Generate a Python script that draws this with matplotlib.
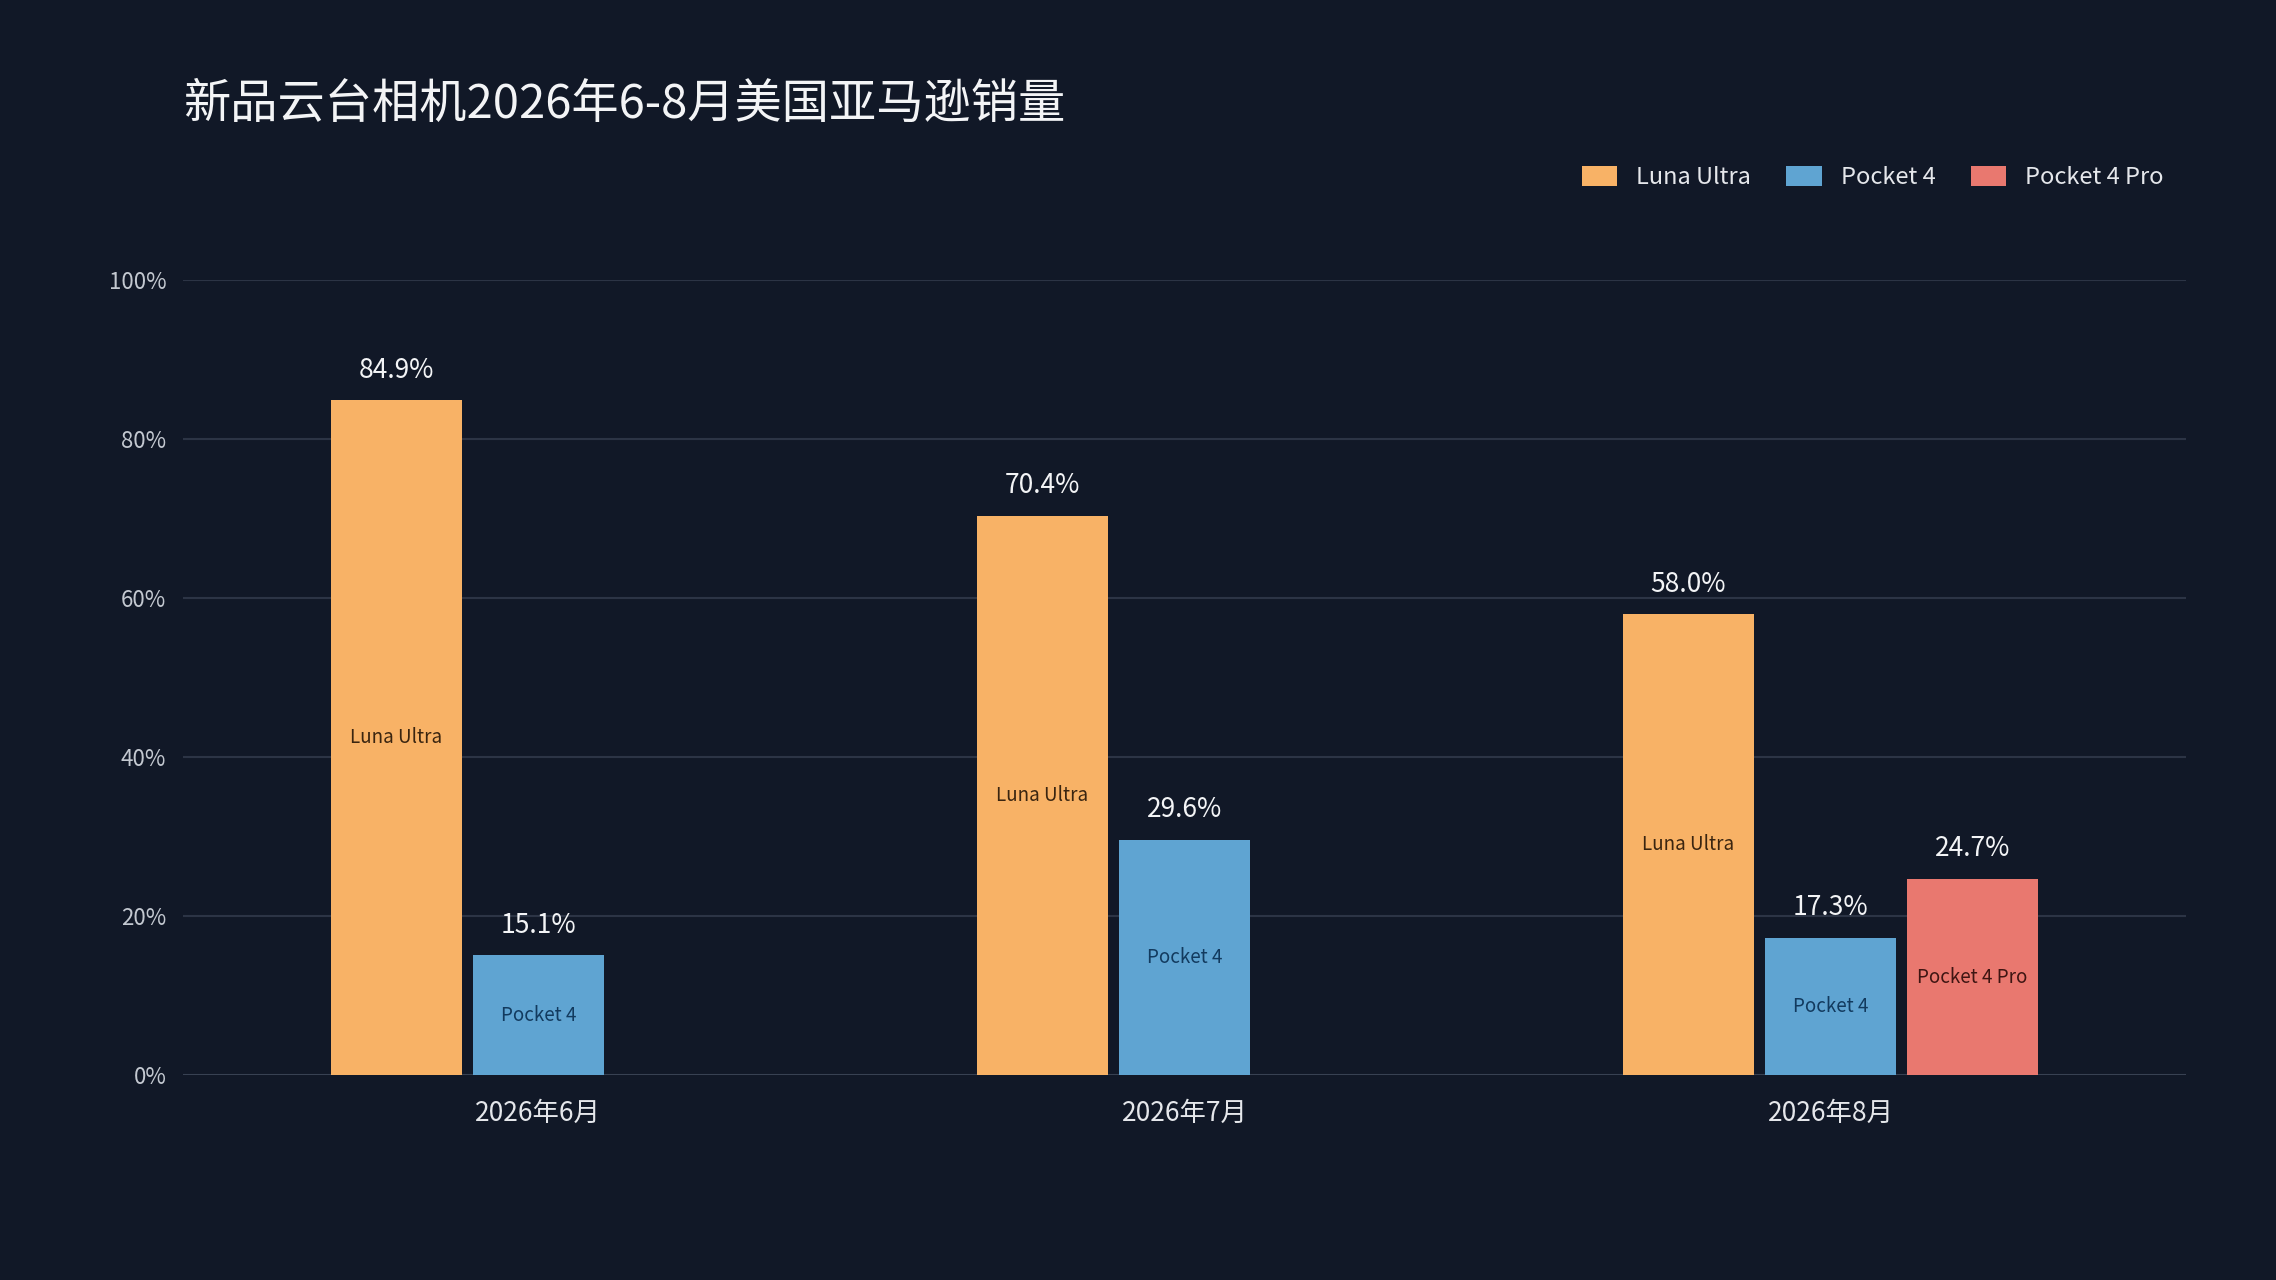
import matplotlib
matplotlib.use("Agg")
import matplotlib.pyplot as plt
import numpy as np
from matplotlib.patches import Patch

plt.rcParams['font.family'] = ['Noto Sans CJK SC', 'DejaVu Sans']

months = ["2026年6月", "2026年7月", "2026年8月"]
series_names = ["Luna Ultra", "Pocket 4", "Pocket 4 Pro"]
luna_ultra = [84.9, 70.4, 58.0]
pocket_4 = [15.1, 29.6, 17.3]
pocket_4_pro = [None, None, 24.7]
y_ticks = [0, 20, 40, 60, 80, 100]

bg = "#111827"
bar_colors = ["#F8B266", "#5FA4D2", "#E9786F"]
inner_colors = ["#3A2510", "#123A5E", "#3E1512"]

fig = plt.figure(figsize=(22.76, 12.8), dpi=100, facecolor=bg)
ax = fig.add_axes([0.0804, 0.160, 0.880, 0.621], facecolor=bg)

x = np.arange(len(months))
width = 0.203
step = 0.22
all_series = [luna_ultra, pocket_4, pocket_4_pro]

for i, vals in enumerate(all_series):
    offset = (i - 1) * step
    for j, v in enumerate(vals):
        if v is None:
            continue
        xpos = x[j] + offset
        ax.bar(xpos, v, width, color=bar_colors[i], zorder=3)
        ax.annotate(f"{v:.1f}%", (xpos, v), xytext=(0, 12), textcoords="offset points",
                    ha="center", va="bottom", color="#F3F4F6", fontsize=19)
        ax.text(xpos, v / 2, series_names[i], ha="center", va="center",
                color=inner_colors[i], fontsize=13.5, zorder=4)

ax.set_xlim(-0.55, 2.55)
ax.set_ylim(0, 100)
ax.set_yticks(y_ticks)
ax.set_yticklabels([f"{t}%" for t in y_ticks])
ax.set_xticks(x)
ax.set_xticklabels(months)

ax.grid(axis="y", color="#2C3445", linewidth=1.5, zorder=0)
ax.axhline(0, color="#3A4354", linewidth=2, zorder=2)
for s in ax.spines.values():
    s.set_visible(False)
ax.tick_params(axis="y", length=0, pad=12, labelsize=16, labelcolor="#C3C8D0")
ax.tick_params(axis="x", length=0, pad=18, labelsize=19, labelcolor="#E5E7EB")

fig.text(0.0804, 0.918, "新品云台相机2026年6-8月美国亚马逊销量", color="#F3F4F6",
         fontsize=34, ha="left", va="center")

handles = [Patch(facecolor=c, edgecolor="none") for c in bar_colors]
fig.legend(handles, series_names, loc="center right", bbox_to_anchor=(0.960, 0.861),
           ncol=3, frameon=False, fontsize=17, labelcolor="#E5E7EB",
           handlelength=1.5, handleheight=0.9, handletextpad=0.8, columnspacing=1.5)

fig.savefig("out.png", dpi=100, facecolor=bg)
